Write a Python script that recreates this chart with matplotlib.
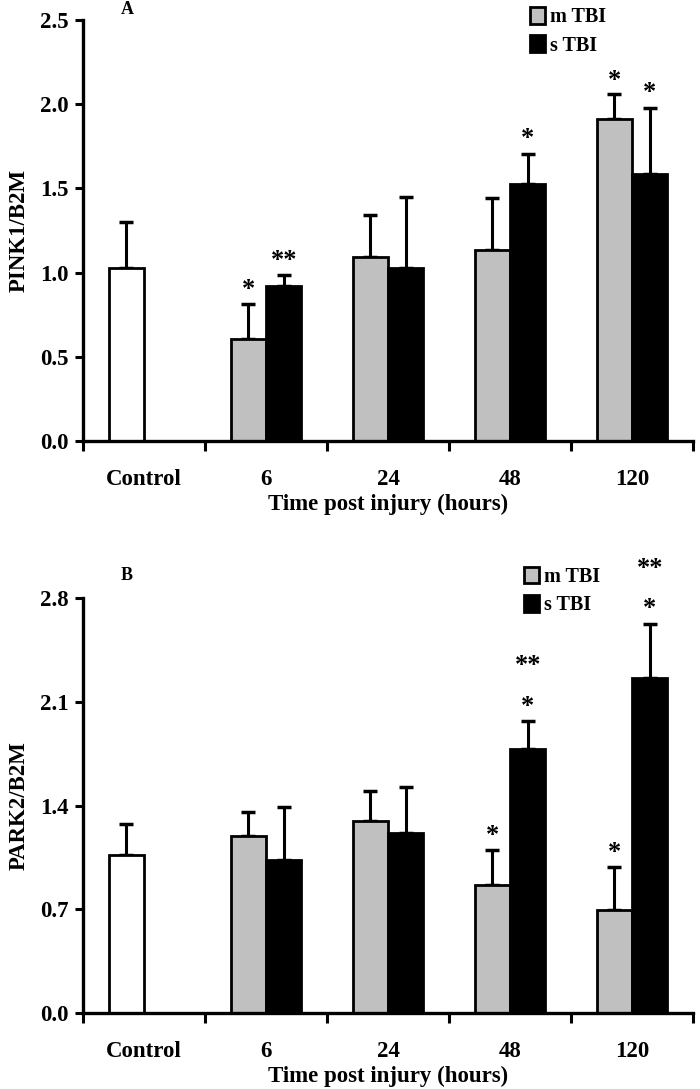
import matplotlib
matplotlib.use("Agg")
import matplotlib.pyplot as plt
from matplotlib.patches import Patch
import numpy as np

plt.rcParams["font.family"] = ["Liberation Serif", "DejaVu Serif"]
plt.rcParams["font.weight"] = "bold"
plt.rcParams["axes.labelweight"] = "bold"

categories = ["Control", "6", "24", "48", "120"]

# panel A: PINK1/B2M
a_control = 1.03
a_control_err = 0.27
a_mild = [0.605, 1.095, 1.137, 1.915]
a_mild_err = [0.21, 0.245, 0.305, 0.145]
a_severe = [0.919, 1.030, 1.528, 1.583]
a_severe_err = [0.065, 0.42, 0.175, 0.395]
a_sig_mild = ["*", "", "", "*"]
a_sig_severe = ["**", "", "*", "*"]
a_sig_severe2 = ["", "", "", ""]

# panel B: PARK2/B2M
b_control = 1.065
b_control_err = 0.207
b_mild = [1.193, 1.296, 0.863, 0.692]
b_mild_err = [0.16, 0.20, 0.24, 0.295]
b_severe = [1.034, 1.217, 1.778, 2.260]
b_severe_err = [0.354, 0.31, 0.19, 0.365]
b_sig_mild = ["", "", "*", "*"]
b_sig_severe = ["", "", "*", "*"]
b_sig_severe2 = ["", "", "**", "**"]

c_gray = "#c0c0c0"
w = 0.29


def draw_panel(ax, control, control_err, mild, mild_err, severe, severe_err,
               sig_m, sig_s, sig_s2, ymax, yticks, ylabel, letter, leg_xy):
    x = np.arange(1, len(categories))
    ebkw = dict(fmt="none", ecolor="black", elinewidth=2.2, capsize=5, capthick=2.5, zorder=1)
    ax.bar(0 - w / 2, control, w, color="white", edgecolor="black", linewidth=2, zorder=2)
    ax.errorbar(0 - w / 2, control, yerr=[[0], [control_err]], **ebkw)
    ax.bar(x - w / 2, mild, w, color=c_gray, edgecolor="black", linewidth=2, zorder=2)
    ax.errorbar(x - w / 2, mild, yerr=[np.zeros(len(mild)), mild_err], **ebkw)
    ax.bar(x + w / 2, severe, w, color="black", edgecolor="black", linewidth=2, zorder=2)
    ax.errorbar(x + w / 2, severe, yerr=[np.zeros(len(severe)), severe_err], **ebkw)

    for i in range(len(x)):
        ax.annotate(sig_m[i], (x[i] - w / 2, mild[i] + mild_err[i]), xytext=(0, 10),
                    textcoords="offset points", ha="center", va="center",
                    fontsize=19, annotation_clip=False)
        ax.annotate(sig_s[i], (x[i] + w / 2, severe[i] + severe_err[i]), xytext=(0, 11),
                    textcoords="offset points", ha="center", va="center",
                    fontsize=19, annotation_clip=False)
        ax.annotate(sig_s2[i], (x[i] + w / 2, severe[i] + severe_err[i]), xytext=(0, 40),
                    textcoords="offset points", ha="center", va="center",
                    fontsize=19, annotation_clip=False)

    ax.set_xlim(-0.5, len(categories) - 0.5)
    ax.set_ylim(0, ymax)
    ax.set_yticks(yticks)
    ax.set_yticklabels([f"{t:.1f}" for t in yticks], fontsize=16.5)
    ax.set_xticks(np.arange(len(categories)))
    ax.set_xticklabels(categories, fontsize=16.5)
    ax.set_xticks(np.arange(len(categories) + 1) - 0.5, minor=True)
    ax.tick_params(axis="x", which="major", length=0, pad=20)
    ax.tick_params(axis="x", which="minor", length=7, width=2.2, direction="out")
    ax.tick_params(axis="y", length=6, width=2.2, direction="out", pad=4)
    for s in ["top", "right"]:
        ax.spines[s].set_visible(False)
    for s in ["left", "bottom"]:
        ax.spines[s].set_linewidth(2.4)
    ax.set_xlabel("Time post injury (hours)", fontsize=16.5, labelpad=3)
    ax.set_ylabel(ylabel, fontsize=16.5)
    ax.yaxis.set_label_coords(-0.088, 0.5)
    ax.text(0.072, leg_xy[2], letter, transform=ax.transAxes, fontsize=13,
            ha="center", va="center")
    handles = [Patch(facecolor=c_gray, edgecolor="black", linewidth=2),
               Patch(facecolor="black", edgecolor="black", linewidth=2)]
    ax.legend(handles, ["m TBI", "s TBI"], loc="upper left", bbox_to_anchor=leg_xy[:2],
              frameon=False, fontsize=14.5, handlelength=0.75, handleheight=0.9,
              handletextpad=0.25, labelspacing=0.4, borderaxespad=0)


fig = plt.figure(figsize=(7, 10.89), dpi=100)
ax1 = fig.add_axes([83 / 700, 1 - 441 / 1089, 610 / 700, 421 / 1089])
ax2 = fig.add_axes([83 / 700, 1 - 1013 / 1089, 610 / 700, 415 / 1089])

draw_panel(ax1, a_control, a_control_err, a_mild, a_mild_err, a_severe, a_severe_err,
           a_sig_mild, a_sig_severe, a_sig_severe2, 2.5, [0.0, 0.5, 1.0, 1.5, 2.0, 2.5],
           "PINK1/B2M", "A", (0.72, 1.05, 1.024))
draw_panel(ax2, b_control, b_control_err, b_mild, b_mild_err, b_severe, b_severe_err,
           b_sig_mild, b_sig_severe, b_sig_severe2, 2.8, [0.0, 0.7, 1.4, 2.1, 2.8],
           "PARK2/B2M", "B", (0.71, 1.095, 1.055))

fig.savefig("out.png", dpi=100)
